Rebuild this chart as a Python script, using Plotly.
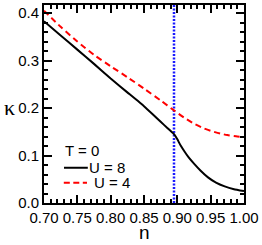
import plotly.graph_objects as go

n_u8 = [0.70, 0.725, 0.75, 0.775, 0.80, 0.825, 0.85, 0.863, 0.875, 0.885, 0.892, 0.895,
        0.900, 0.905, 0.911, 0.917, 0.925, 0.935, 0.946, 0.958, 0.971, 0.985, 1.00]
k_u8 = [0.383, 0.353, 0.323, 0.293, 0.262, 0.233, 0.204, 0.187, 0.171, 0.158, 0.149, 0.145,
        0.134, 0.121, 0.108, 0.096, 0.083, 0.068, 0.054, 0.043, 0.035, 0.029, 0.025]

n_u4 = [0.70, 0.725, 0.75, 0.775, 0.80, 0.825, 0.85, 0.875, 0.895, 0.91, 0.925,
        0.94, 0.95, 0.965, 0.975, 0.99, 1.00]
k_u4 = [0.405, 0.371, 0.340, 0.312, 0.288, 0.265, 0.241, 0.216, 0.195, 0.180, 0.167,
        0.157, 0.152, 0.146, 0.143, 0.140, 0.139]

n_mark = [0.895, 0.895]
k_mark = [0.0, 0.417]

x_ticks = [0.70, 0.75, 0.80, 0.85, 0.90, 0.95, 1.00]
y_ticks = [0.0, 0.1, 0.2, 0.3, 0.4]

legend_title = "T = 0"
legend_labels = ["U = 8", "U = 4"]

FONT = "Liberation Sans, Arial, sans-serif"
BLACK = "black"
RED = "#ff0000"
BLUE = "#1a1aff"

fig = go.Figure()
fig.add_trace(go.Scatter(x=n_mark, y=k_mark, mode="lines", showlegend=False,
                         line=dict(color=BLUE, width=2.5, dash="2px,1.5px")))
fig.add_trace(go.Scatter(x=n_u8, y=k_u8, mode="lines", name=legend_labels[0], showlegend=False,
                         line=dict(color=BLACK, width=2, shape="spline", smoothing=0.3)))
fig.add_trace(go.Scatter(x=n_u4, y=k_u4, mode="lines", name=legend_labels[1], showlegend=False,
                         line=dict(color=RED, width=2, dash="6px,4px", shape="spline", smoothing=0.6)))

axis_common = dict(showline=True, linewidth=2, linecolor="black", mirror="ticks",
                   ticks="inside", ticklen=8, tickwidth=2, tickcolor="black",
                   showgrid=False, zeroline=False,
                   tickfont=dict(family=FONT, size=15, color="black"))

fig.update_xaxes(range=[0.70, 1.00], tickvals=x_ticks,
                 ticktext=[f"{v:.2f}" for v in x_ticks],
                 minor=dict(ticks="inside", ticklen=4, tickwidth=2, tickcolor="black", dtick=0.01),
                 **axis_common)
fig.update_yaxes(range=[0.0, 0.417], tickvals=y_ticks,
                 ticktext=[f"{v:.1f}" for v in y_ticks],
                 minor=dict(ticks="inside", ticklen=4, tickwidth=2, tickcolor="black", dtick=0.02, tick0=0),
                 **axis_common)

# axis titles (upright kappa, n)
fig.add_annotation(text="κ", xref="paper", yref="paper", x=-0.21, y=0.48,
                   xanchor="left", yanchor="middle", showarrow=False,
                   font=dict(family="Liberation Serif, serif", size=22, color="black"))
fig.add_annotation(text="n", xref="paper", yref="paper", x=0.5, y=-0.15,
                   xanchor="center", yanchor="middle", showarrow=False, borderpad=0,
                   font=dict(family=FONT, size=19, color="black"))

# hand-drawn legend
fig.add_annotation(text=legend_title, xref="paper", yref="paper", x=0.098, y=0.265,
                   xanchor="left", yanchor="middle", showarrow=False, borderpad=0,
                   font=dict(family=FONT, size=15, color="black"))
fig.add_shape(type="line", xref="paper", yref="paper", x0=0.100, x1=0.219, y0=0.178, y1=0.178,
              line=dict(color=BLACK, width=2))
fig.add_annotation(text=legend_labels[0], xref="paper", yref="paper", x=0.222, y=0.18,
                   xanchor="left", yanchor="middle", showarrow=False, borderpad=0,
                   font=dict(family=FONT, size=15, color="black"))
fig.add_shape(type="line", xref="paper", yref="paper", x0=0.099, x1=0.215, y0=0.102, y1=0.102,
              line=dict(color=RED, width=2, dash="6px,3.5px"))
fig.add_annotation(text=legend_labels[1], xref="paper", yref="paper", x=0.247, y=0.103,
                   xanchor="left", yanchor="middle", showarrow=False, borderpad=0,
                   font=dict(family=FONT, size=15, color="black"))

fig.update_layout(
    width=262, height=245,
    margin=dict(l=44, r=16, t=3, b=42),
    paper_bgcolor="white", plot_bgcolor="white",
    font=dict(family=FONT, color="black"),
    showlegend=False,
)

fig.write_html("out.html", config={"displayModeBar": False},
               post_script="document.body.style.margin='0';")
